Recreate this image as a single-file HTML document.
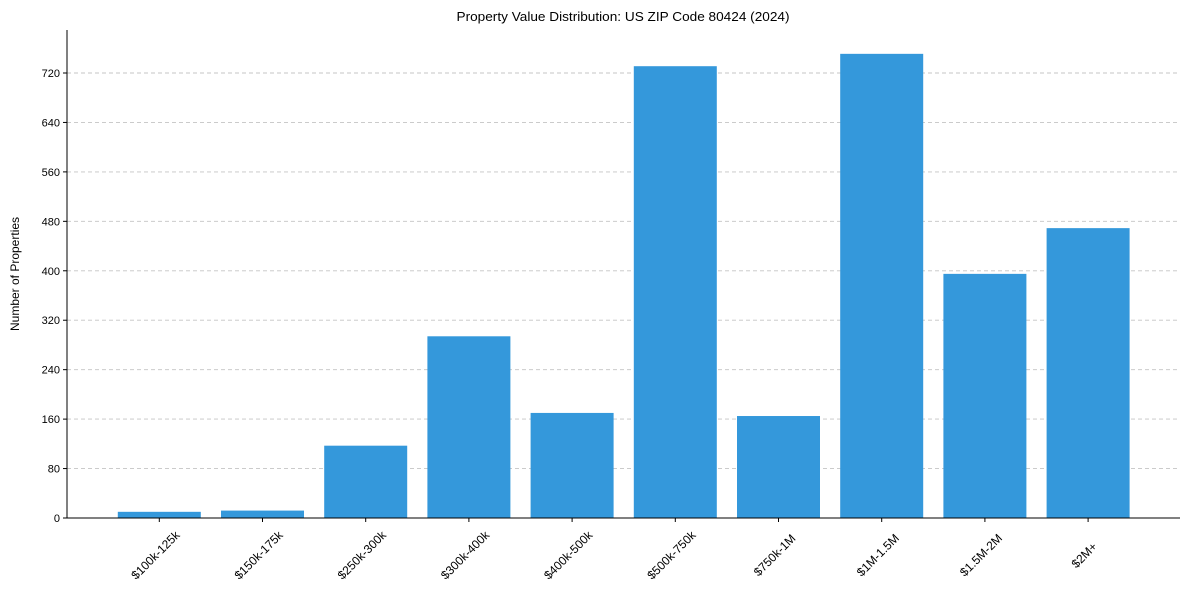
<!DOCTYPE html>
<html><head><meta charset="utf-8"><style>
body{margin:0;background:#fff;}
svg{display:block;font-family:"Liberation Sans Narrow","Liberation Sans",Arial,sans-serif;}
</style></head><body>
<svg id="chart" width="1189" height="590"></svg>
<script>
const categories=["$100k-125k","$150k-175k","$250k-300k","$300k-400k","$400k-500k","$500k-750k","$750k-1M","$1M-1.5M","$1.5M-2M","$2M+"];
const counts=[10,12,117,294,170,731,165,751,395,469];
const yTicks=[0,80,160,240,320,400,480,560,640,720];
const NS="http://www.w3.org/2000/svg";
const svg=document.getElementById('chart');
const L=67,R=1180,T=30,B=518;
const y=v=>B-v*(445/720);
const x=i=>159.3+i*103.2;
const bw=83;
function mk(tag,attrs,parent){const e=document.createElementNS(NS,tag);for(const k in attrs)e.setAttribute(k,attrs[k]);(parent||svg).appendChild(e);return e;}
let t=mk('text',{x:623,y:21,'text-anchor':'middle','font-size':13,fill:'#000',textLength:333,lengthAdjust:'spacingAndGlyphs'});


t.textContent="Property Value Distribution: US ZIP Code 80424 (2024)";
yTicks.forEach(v=>{
 if(v>0){const g=mk('line',{x1:L,x2:R,y1:y(v),y2:y(v),stroke:'#c4c4c4','stroke-dasharray':'4,3','stroke-width':0.9});
 
 }
 const tk=mk('line',{x1:L-4,x2:L,y1:y(v),y2:y(v),stroke:'#000'});
 
 
 const lb=mk('text',{x:L-7,y:y(v)+4,'text-anchor':'end','font-size':11,fill:'#000'});
 
 
 lb.textContent=v;
});
categories.forEach((c,i)=>{
 const r=mk('rect',{x:x(i)-bw/2,y:y(counts[i]),width:bw,height:B-y(counts[i]),fill:'#3498db'});
 
 
 const tk=mk('line',{x1:x(i),x2:x(i),y1:B,y2:B+4,stroke:'#000'});
 
 
 const lb=mk('text',{x:0,y:0,'text-anchor':'middle','font-size':12,fill:'#000',transform:`translate(${x(i)-1},${B+40}) rotate(-45)`});
 
 
 lb.textContent=c;
});
const ax1=mk('line',{x1:L,x2:L,y1:T,y2:B,stroke:'#000','stroke-width':1});


const ax2=mk('line',{x1:L,x2:R,y1:B,y2:B,stroke:'#000','stroke-width':1});


const yt=mk('text',{x:0,y:0,'text-anchor':'middle','font-size':12,fill:'#000',transform:'translate(19,274) rotate(-90)'});


yt.textContent="Number of Properties";
</script>
</body></html>
